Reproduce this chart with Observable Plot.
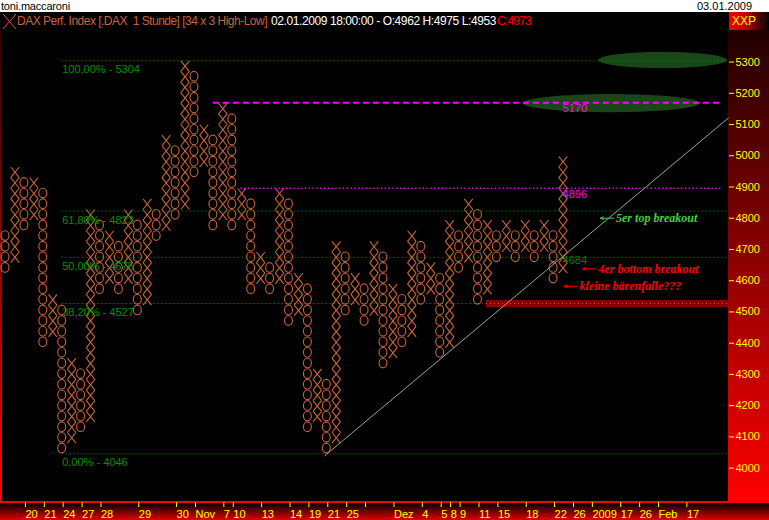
<!DOCTYPE html>
<html><head><meta charset="utf-8">
<script src="https://cdn.jsdelivr.net/npm/d3@7"></script>
<script src="https://cdn.jsdelivr.net/npm/@observablehq/plot@0.6"></script>
<style>
body{margin:0;background:#000;width:769px;height:520px;overflow:hidden;font-family:"Liberation Sans",Arial,sans-serif;}
#top{position:relative;height:12px;background:#fff;font-size:11px;line-height:12px;color:#000;}
#top span{position:absolute;top:0;white-space:pre;}
#bar{position:relative;height:18px;background:#000;font-size:12px;line-height:18px;}
#bar span{position:absolute;top:0;white-space:pre;}
#xxp{position:absolute;left:729px;top:0;width:40px;height:18px;background:linear-gradient(to right,#f00000 0%,#c00000 40%,#000 100%);color:#ffff00;font-size:12px;line-height:18px;padding-left:3px;box-sizing:border-box;}
#chart{position:relative;width:769px;height:490px;background:#000;}
.bg{position:absolute;}
#chart svg{position:absolute;left:0;top:0;}
</style></head>
<body>
<div id="top"><span id="user" style="left:1px">toni.maccaroni</span><span id="date" style="left:697px">03.01.2009</span></div>
<div id="bar">
<svg width="16" height="18" style="position:absolute;left:1px;top:0"><line x1="2" y1="2" x2="15" y2="17" stroke="#c8643c"/><line x1="15" y1="2" x2="2" y2="17" stroke="#c8643c"/></svg>
<span id="t1" style="left:17px;color:#c8643c">DAX Perf. Index [.DAX  1 Stunde] [34 x 3 High-Low]</span>
<span id="t2" style="left:271px;color:#fff">02.01.2009 18:00:00 - O:4962 H:4975 L:4953</span>
<span id="t3" style="left:497px;color:#ff0000">C:4973</span>
<div id="xxp">XXP</div>
</div>
<div id="chart">
<div class="bg" style="left:0;top:0;width:2px;height:472px;background:linear-gradient(#300000,#ff0000)"></div>
<div class="bg" style="left:728px;top:0;width:41px;height:472px;background:linear-gradient(#200000,#ff0000)"></div>
<div class="bg" style="left:0;top:471px;width:769px;height:2px;background:#ff0000"></div>
<div class="bg" style="left:0;top:473px;width:769px;height:17px;background:linear-gradient(#000,#e00000)"></div>
</div>
<script>
// ---- data ----
const boxSize = 34, boxBase = 4046;
const colType = ["O","X","O","X","O","X","O","X","O","X","O","X","O","X","O","X","O","X","O","X",
                 "O","X","O","X","O","X","O","X","O","X","O","X","O","X","O","X","O","X","O","X",
                 "O","X","O","X","O","X","O","X","O","X","O","X","O","X","O","X","O","X","O","X"];
const colLow  = [17,18,21,22,10,11,0,1,2,3,15,16,15,16,13,14,20,21,22,23,
                 26,27,21,22,21,22,15,16,15,16,12,13,2,3,0,1,13,14,12,13,
                 8,9,10,11,14,15,9,10,17,18,14,15,18,19,18,19,18,19,16,17];
const colHigh = [20,26,25,25,24,14,13,8,7,22,21,20,19,22,21,23,22,29,28,36,
                 35,30,29,32,31,24,23,18,17,24,23,16,15,7,6,19,18,16,15,19,
                 18,15,14,20,19,17,16,21,20,23,22,21,20,21,20,21,20,21,20,27];

const fibPct   = ["100,00%","61,80%","50,00%","38,20%","0,00%"];
const fibPrice = [5304, 4823, 4675, 4527, 4046];

const levelPrice = [5170, 4896, 4684];
const levelText  = ["5170", "4896", "4684"];
const levelColor = ["#ff00ff", "#ff00ff", "#008000"];

const trendCol   = [33.8, 76.5];
const trendPrice = [4040, 5121];

const zoneCol1 = [62.75, 54.8], zoneCol2 = [76.4, 73.5];
const zoneLow  = [5279, 5138],  zoneHigh = [5331, 5196];

const trapCol1 = 50.9, trapCol2 = 76.6, trapLow = 4513, trapHigh = 4537;

const noteText  = ["5er top breakout", "4er bottom breakout", "kleine b\u00e4renfalle???"];
const noteCol   = [62.96, 61.1, 59.1];
const notePrice = [4800, 4638, 4582];
const noteColor = ["#40d040", "#ff0000", "#ff0000"];

const yTicks = [4000,4100,4200,4300,4400,4500,4600,4700,4800,4900,5000,5100,5200,5300];
const dateTickCols = [2,4,6,8,10,14,18,20,23,24,27,30,32,34,36,38,41,44,46,47,48,50,52,55,58,60,62,65,67,69,72];
const dateTickLabels = ["20","21","24","27","28","29","30","Nov","7","10","13","14","19","21","25","","Dez","4","5","8","9","11","15","18","22","26","2009","17","26","Feb","17"];

// ---- derived tables ----
const boxes = [];
colType.forEach((t, i) => {
  for (let k = colLow[i]; k <= colHigh[i]; k++)
    boxes.push({col: i, type: t, lo: boxBase + k * boxSize, hi: boxBase + (k + 1) * boxSize});
});
const xBoxes = boxes.filter(d => d.type === "X");
const oBoxes = boxes.filter(d => d.type === "O");
const fib = fibPrice.map((p, i) => ({p, label: fibPct[i] + " - " + p}));
const levels = levelPrice.map((p, i) => ({p, text: levelText[i], color: levelColor[i]}));
const trend = trendCol.map((c, i) => ({c, p: trendPrice[i]}));
const zones = zoneLow.map((l, i) => ({x1: zoneCol1[i], x2: zoneCol2[i], lo: l, hi: zoneHigh[i]}));
const notes = noteText.map((t, i) => ({t, c: noteCol[i], p: notePrice[i], color: noteColor[i]}));

const glyph = "#c8643c";
const xMax = 76.51;

const chart = Plot.plot({
  width: 769, height: 490,
  marginLeft: 0, marginRight: 41, marginTop: 0, marginBottom: 18,
  style: {background: "transparent", fontFamily: "Liberation Sans, Arial, sans-serif", fontSize: "11px", color: "#ffff00", overflow: "visible"},
  x: {domain: [-0.529, xMax]},
  y: {domain: [3890, 5401]},
  marks: [
    Plot.rect(zones, {x1: "x1", x2: "x2", y1: "lo", y2: "hi", rx: 200, ry: 30, fill: "#1a471a", clip: true}),
    Plot.ruleY(fib, {y: "p", x1: () => 6.0, x2: () => xMax, stroke: "#00a000", strokeDasharray: "1,3"}),
    Plot.rect([0], {x1: () => trapCol1, x2: () => trapCol2, y1: () => trapLow, y2: () => trapHigh, fill: "#8b0000", clip: true}),
    Plot.ruleY([4527], {x1: () => trapCol1, x2: () => xMax, stroke: "#d06060", strokeDasharray: "1,3"}),
    Plot.ruleY([5170], {x1: () => 22.0, x2: () => 75.7, stroke: "#ff00ff", strokeWidth: 2, strokeDasharray: "6,4"}),
    Plot.ruleY([4896], {x1: () => 24.9, x2: () => 75.9, stroke: "#ff00ff", strokeWidth: 1.3, strokeDasharray: "1.3,2.5"}),
    Plot.link(xBoxes, {x1: d => d.col - 0.45, x2: d => d.col + 0.45, y1: "lo", y2: "hi", stroke: glyph, strokeWidth: 1.1}),
    Plot.link(xBoxes, {x1: d => d.col - 0.45, x2: d => d.col + 0.45, y1: "hi", y2: "lo", stroke: glyph, strokeWidth: 1.1}),
    Plot.rect(oBoxes, {x1: d => d.col - 0.42, x2: d => d.col + 0.42, y1: "lo", y2: "hi", insetTop: 0.5, insetBottom: 0.5, rx: 20, ry: 20, fill: "none", stroke: glyph, strokeWidth: 1.1}),
    Plot.line(trend, {x: "c", y: "p", stroke: "#a0a0a0", strokeWidth: 1}),
    Plot.line(trend, {x: "c", y: "p", stroke: "#30a030", strokeWidth: 1, strokeDasharray: "3,25"}),
    Plot.text(fib, {x: () => 6.0, y: "p", text: "label", dy: 9, textAnchor: "start", fill: "#009000", fontSize: 11}),
    Plot.text(levels, {x: () => 58.95, y: "p", text: "text", dy: 6, textAnchor: "start", fill: d => d.color, fontSize: 11}),
    Plot.arrow(notes, {x1: d => d.c + 1.4, x2: "c", y1: "p", y2: "p", stroke: d => d.color, strokeWidth: 1, headLength: 5, headAngle: 50}),
    Plot.text(notes, {x: d => d.c + 1.65, y: "p", text: "t", fill: d => d.color, textAnchor: "start", fontSize: 12, fontStyle: "italic", fontWeight: "bold", fontFamily: "Liberation Serif, serif"}),
    Plot.axisY({ticks: yTicks, anchor: "right", tickSize: 5, tickPadding: 2, tickFormat: d => String(d), stroke: "#ffff00", fill: "#ffff00", fontSize: 11}),
    Plot.axisX({ticks: dateTickCols, anchor: "bottom", tickSize: 5, tickPadding: 3, tickFormat: d => dateTickLabels[dateTickCols.indexOf(d)], textAnchor: "start", dx: 1, stroke: "#ffff00", fill: "#ffff00", fontSize: 11})
  ]
});
document.getElementById("chart").appendChild(chart);

// fit header texts to their widths
function fit(id, w) {
  const el = document.getElementById(id);
  const n = el.textContent.length;
  const cur = el.getBoundingClientRect().width;
  el.style.letterSpacing = ((w - cur) / n) + "px";
}
fit("t1", 250); fit("t2", 225); fit("t3", 34); fit("user", 69);
</script>
</body></html>
